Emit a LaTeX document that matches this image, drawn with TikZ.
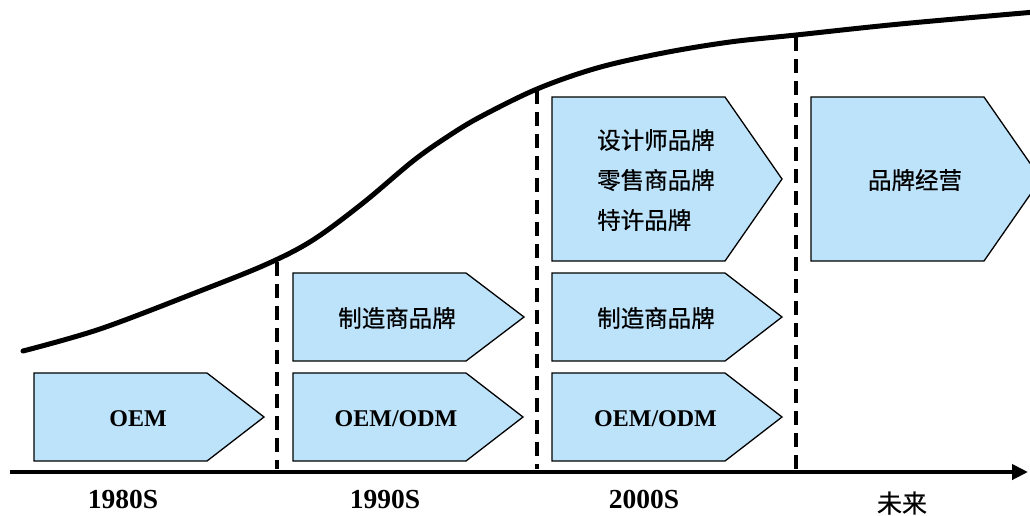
\documentclass[tikz,border=0pt]{standalone}
\usepackage{fontspec}
\setmainfont{Liberation Serif}
\newfontfamily\cjk[FakeBold=0.6]{Noto Sans CJK SC}
\usetikzlibrary{arrows.meta}
\definecolor{boxblue}{RGB}{189,227,251}
\tikzset{
  pbox/.style={draw=black, line width=1.3pt, fill=boxblue, line join=miter},
  vdash/.style={line width=4pt, dash pattern=on 14pt off 8pt},
  lat/.style={font=\bfseries\fontsize{24}{28}\selectfont, inner sep=0pt},
  yr/.style={font=\bfseries\fontsize{27.5}{30}\selectfont, inner sep=0pt},
  zh/.style={font=\cjk\fontsize{23.5}{27}\selectfont, inner sep=0pt},
}
\begin{document}
\begin{tikzpicture}[x=1pt,y=-1pt]
\useasboundingbox (0,0) rectangle (1030,515);
\clip (0,0) rectangle (1030,515);
% S-curve
\draw[line width=5pt, line cap=round] plot[smooth, tension=0.55] coordinates
 {(23,351) (100,329) (200,291) (267,264) (313,240) (363,203) (413,161) (447,137) (480,117) (537,89) (597,68) (663,53) (730,42) (796,35) (900,24) (1035,12)};
% axis
\coordinate (axL) at (10,472);
\coordinate (axR) at (1028,472);
\draw[line width=4pt, -{Triangle[length=16pt,width=15pt]}] (axL) -- (axR);
% dashed dividers
\coordinate (d1t) at (277,262); \coordinate (d1b) at (277,469);
\coordinate (d2t) at (537,90);  \coordinate (d2b) at (537,469);
\coordinate (d3t) at (796,37);  \coordinate (d3b) at (796,469);
\draw[vdash] (d1t) -- (d1b);
\draw[vdash] (d2t) -- (d2b);
\draw[vdash] (d3t) -- (d3b);
% boxes
\draw[pbox] (34,373) -- (207,373) -- (264,417) -- (207,461) -- (34,461) -- cycle;
\draw[pbox] (293,373) -- (466,373) -- (523,417) -- (466,461) -- (293,461) -- cycle;
\draw[pbox] (293,273) -- (466,273) -- (524,317) -- (466,361) -- (293,361) -- cycle;
\draw[pbox] (552,373) -- (725,373) -- (782,417) -- (725,461) -- (552,461) -- cycle;
\draw[pbox] (552,273) -- (725,273) -- (782,317) -- (725,361) -- (552,361) -- cycle;
\draw[pbox] (552,97) -- (725,97) -- (782,179) -- (725,261) -- (552,261) -- cycle;
\draw[pbox] (811,97) -- (984,97) -- (1041,179) -- (984,261) -- (811,261) -- cycle;
% box texts
\node[lat] (t1) at (138,419) {OEM};
\node[lat] (t2) at (396,419) {OEM/ODM};
\node[zh]  (t3) at (397,318) {制造商品牌};
\node[lat] (t4) at (655.5,419) {OEM/ODM};
\node[zh]  (t5) at (656,318) {制造商品牌};
\node[zh, anchor=west] (t6) at (597,140) {设计师品牌};
\node[zh, anchor=west] (t7) at (597,180) {零售商品牌};
\node[zh, anchor=west] (t8) at (597,220) {特许品牌};
\node[zh]  (t9) at (915,180) {品牌经营};
% period labels
\node[yr] (p1) at (123,499) {1980S};
\node[yr] (p2) at (385,499) {1990S};
\node[yr] (p3) at (644,499) {2000S};
\node[zh, font=\cjk\fontsize{25}{29}\selectfont] (p4) at (902,503) {未来};
\end{tikzpicture}
\end{document}
